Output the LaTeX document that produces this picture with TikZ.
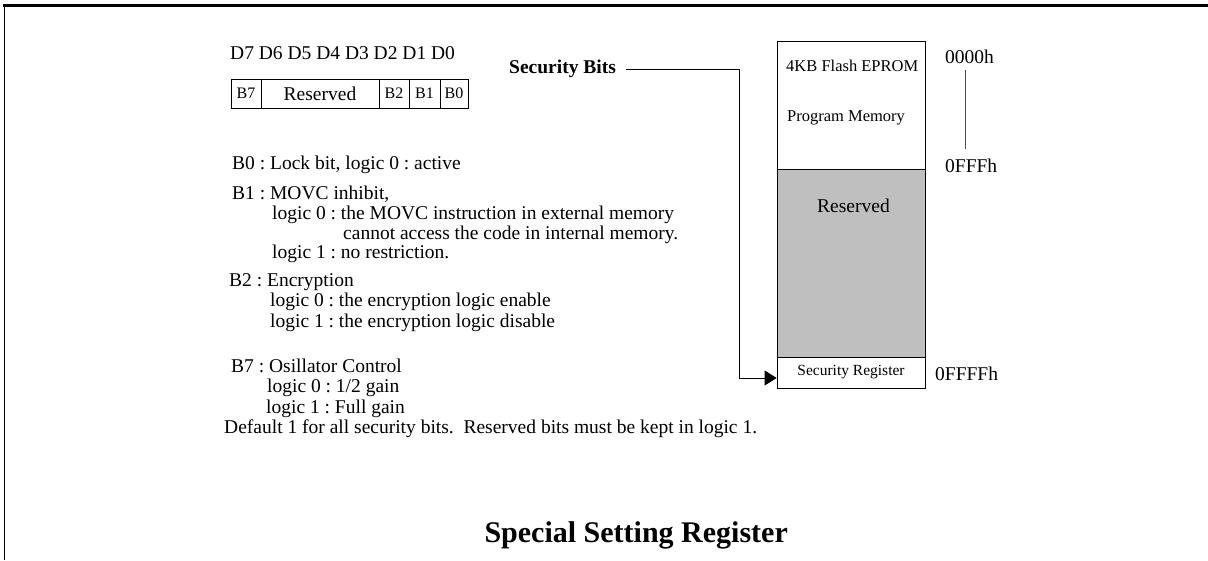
\documentclass[tikz,border=0pt]{standalone}
\usepackage{fontspec}
\setmainfont{Liberation Serif}
\usetikzlibrary{arrows.meta}
\begin{document}
\frenchspacing
\begin{tikzpicture}[x=1pt,y=-1pt,
  txt/.style={anchor=base west,inner sep=0pt,font=\fontsize{19.5}{20}\selectfont},
  cell/.style={draw,line width=0.8pt,inner sep=0pt,minimum height=29pt,font=\fontsize{16}{17}\selectfont},
  memtxt/.style={anchor=base west,inner sep=0pt,font=\fontsize{16.5}{17}\selectfont},
  membox/.style={draw,line width=0.8pt,minimum width=148pt,inner sep=0pt},
  conn/.style={line width=0.8pt},
  frame/.style={line width=0.8pt}]
\useasboundingbox (0,0) rectangle (1208,560);
% frame
\draw[frame] (4,560) -- (4,5);
\draw[line width=3pt] (3,5) -- (1208,5);
% bit header
\node[txt] (dbits) at (230,59) {D7 D6 D5 D4 D3 D2 D1 D0};
\node[cell,minimum width=30pt] (b7) at (246,93.5) {B7};
\node[cell,minimum width=118pt,font=\fontsize{19.5}{20}\selectfont] (res) at (320,93.5) {Reserved};
\node[cell,minimum width=30pt] (b2) at (394,93.5) {B2};
\node[cell,minimum width=31pt] (b1) at (424.5,93.5) {B1};
\node[cell,minimum width=28pt] (b0) at (454,93.5) {B0};
% descriptions
\node[txt] (t1) at (232,169) {B0 : Lock bit, logic 0 : active};
\node[txt] (t2) at (232,199) {B1 : MOVC inhibit,};
\node[txt] (t3) at (272,219) {logic 0 : the MOVC instruction in external memory};
\node[txt] (t4) at (343,239) {cannot access the code in internal memory.};
\node[txt] (t5) at (272,258) {logic 1 : no restriction.};
\node[txt] (t6) at (229,286) {B2 : Encryption};
\node[txt] (t7) at (270,306) {logic 0 : the encryption logic enable};
\node[txt] (t8) at (270,327) {logic 1 : the encryption logic disable};
\node[txt] (t9) at (231,372) {B7 : Osillator Control};
\node[txt] (t10) at (267,392) {logic 0 : 1/2 gain};
\node[txt] (t11) at (266,413) {logic 1 : Full gain};
\node[txt] (t12) at (224,433) {Default 1 for all security bits.\ \ Reserved bits must be kept in logic 1.};
% security bits label
\node[inner sep=0pt,anchor=west,font=\fontsize{19.5}{20}\selectfont\bfseries] (sb) at (509,69) {Security Bits};
% memory map
\node[membox,minimum height=128pt] (flash) at (851,105) {};
\node[membox,fill=black!25,minimum height=188pt] (resv) at (851,263) {};
\node[membox,minimum height=31pt,font=\fontsize{15.5}{16}\selectfont] (sr) at (851,372.5) {Security Register};
\node[memtxt] (fl1) at (786,71) {4KB Flash EPROM};
\node[memtxt] (fl2) at (787,121) {Program Memory};
\node[txt] (rl) at (817,212) {Reserved};
% addresses
\node[txt] (a0) at (945,63) {0000h};
\node[txt] (a1) at (945,172) {0FFFh};
\node[txt] (a2) at (935,380) {0FFFFh};
\coordinate (vtop) at (965,70);
\coordinate (vbot) at (965,149);
\draw[black!70,line width=0.8pt] (vtop) -- (vbot);
% connector
\coordinate (bend) at (739,0);
\draw[conn,-{Triangle[length=12pt,width=15pt]}] ([xshift=10pt]sb.east) -- (sb.east -| bend) |- ([yshift=-5.5pt]sr.west);
% title
\node[inner sep=0pt,anchor=base east,font=\fontsize{30}{32}\selectfont\bfseries] (title) at (788,542) {Special Setting Register};
\end{tikzpicture}
\end{document}
